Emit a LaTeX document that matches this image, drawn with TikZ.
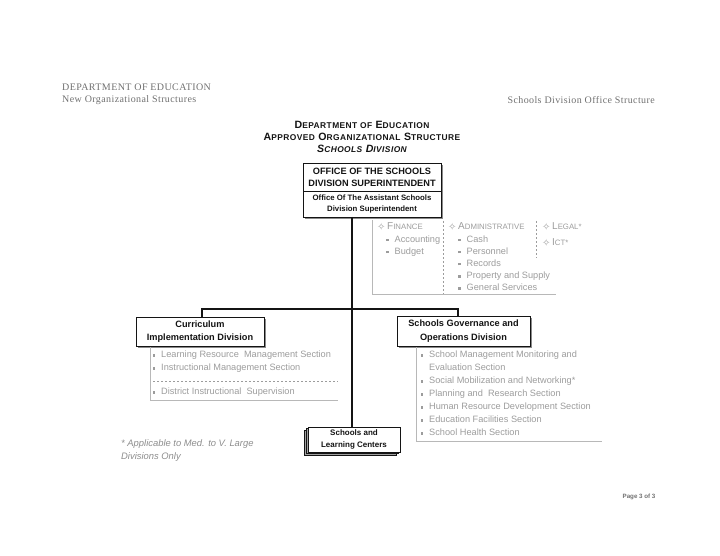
\documentclass[tikz,border=0pt]{standalone}
\usepackage{fontspec}
\setmainfont{Liberation Sans}
\newfontfamily\hdfont[LetterSpace=4]{Liberation Serif}
\newfontfamily\ttlfont[LetterSpace=5]{Liberation Sans}
\newfontfamily\symfont{DejaVu Sans}
\usepackage{xcolor}
\usetikzlibrary{positioning,backgrounds,shadows}
\definecolor{cInk}{HTML}{141414}
\definecolor{cHead}{HTML}{707070}
\definecolor{cItem}{HTML}{9C9C9C}
\definecolor{cFrame}{HTML}{B8B8B8}
\definecolor{cShade}{HTML}{8A8A8A}
\newcommand{\fsc}[3][7.8]{#2{\fontsize{#1}{#1}\selectfont #3}}
\newcommand{\bul}{\makebox[8.5pt][l]{\rule[1.2pt]{2.4pt}{2.4pt}}}
\newcommand{\dmd}{\makebox[10pt][l]{\raisebox{-0.3pt}{\symfont\fontsize{10}{10}\selectfont ✧}}}
\tikzset{
  hdtxt/.style={font=\hdfont\fontsize{10}{12}\selectfont, text=cHead, inner sep=0pt, align=left},
  ttltxt/.style={font=\ttlfont\bfseries\fontsize{10.6}{12}\selectfont, text=cInk, inner sep=0pt, align=center},
  box/.style={draw=cInk, fill=white, line width=0.8pt, outer sep=0pt, inner sep=2pt, align=center,
              text=cInk, font=\bfseries\fontsize{9.2}{13}\selectfont},
  shbox/.style={box, drop shadow={shadow xshift=1.8pt, shadow yshift=-1.8pt, fill=cShade, opacity=1}},
  itm/.style={font=\fontsize{9.2}{13}\selectfont, text=cItem, align=left, inner sep=0pt, anchor=north west},
  frm/.style={draw=cFrame, line width=1pt},
  sep/.style={draw=cItem, dash pattern=on 2pt off 2pt, line width=0.6pt},
  link/.style={draw=cInk, line width=1.5pt},
  note/.style={font=\itshape\fontsize{9.4}{13}\selectfont, text=cItem!90!black, align=left, inner sep=0pt, anchor=north west},
  pg/.style={font=\bfseries\fontsize{6.2}{7}\selectfont, text=cHead, inner sep=0pt}
}

\begin{document}
\begin{tikzpicture}[x=1pt, y=1pt]
\useasboundingbox (0,0) rectangle (720,-556);
% page headers
\node[hdtxt, anchor=north west] (hdl) at (62,-83.7) {DEPARTMENT OF EDUCATION\\New Organizational Structures};
\node[hdtxt, anchor=north east] (hdr) at (655,-96.2) {Schools Division Office Structure};
\node[ttltxt, anchor=north] (ttl) at (362,-121) {\fsc[8.4]{D}{EPARTMENT OF} \fsc[8.4]{E}{DUCATION}\\
  \fsc[8.4]{A}{PPROVED} \fsc[8.4]{O}{RGANIZATIONAL} \fsc[8.4]{S}{TRUCTURE}\\
  \itshape\fsc[8.4]{S}{CHOOLS} \fsc[8.4]{D}{IVISION}};
% superintendent
\node[shbox, minimum width=138, minimum height=28, font=\bfseries\fontsize{9.2}{12}\selectfont] (sup) at (372,-177) {OFFICE OF THE SCHOOLS\\DIVISION SUPERINTENDENT};
\node[shbox, minimum width=138, minimum height=26, below=0pt of sup, font=\bfseries\fontsize{7.8}{11}\selectfont] (asup) {Office Of The Assistant Schools\\Division Superintendent};
% staff services
\draw[frm] (372,-220) |- (556,-294);
\draw[sep] (443,-221) -- (443,-294);
\draw[sep] (536,-221) -- (536,-258);
\node[itm, font=\fontsize{9.2}{12.2}\selectfont] (fin) at (377,-222.6) {\dmd\fsc[7.8]{\fontsize{10}{12.2}\selectfont F}{INANCE}\\
  \hspace*{9pt}\bul Accounting\\\hspace*{9pt}\bul Budget};
\node[itm, font=\fontsize{9.2}{12.2}\selectfont] (adm) at (448,-222.6) {\dmd\fsc[7.8]{\fontsize{10}{12.2}\selectfont A}{DMINISTRATIVE}\\
  \hspace*{10pt}\bul Cash\\\hspace*{10pt}\bul Personnel\\\hspace*{10pt}\bul Records\\
  \hspace*{10pt}\bul Property and Supply\\\hspace*{10pt}\bul General Services};
\node[itm, font=\fontsize{9.2}{16}\selectfont] (leg) at (542,-222.6) {\dmd\fsc[7.8]{\fontsize{10}{16}\selectfont L}{EGAL*}\\
  \dmd\fsc[7.8]{\fontsize{10}{16}\selectfont I}{CT*}};
% divisions
\node[shbox, minimum width=128, minimum height=29] (cid) at (200,-331.5) {Curriculum\\Implementation Division};
\node[shbox, minimum width=133, minimum height=30, font=\bfseries\fontsize{9.2}{14}\selectfont] (sgod) at (463.5,-331) {Schools Governance and\\Operations Division};
\node[box, minimum width=92, minimum height=25, font=\bfseries\fontsize{8}{12.5}\selectfont,
  double copy shadow={shadow xshift=-2pt, shadow yshift=-1.6pt, fill=cShade!80}] (slc) at (354,-439.5) {Schools and\\Learning Centers};
% trunk and branches
\coordinate (jn) at (352,-309);
\draw[link] (asup.south -| jn) -- (slc.north -| jn);
\draw[link] ([xshift=2pt]cid.north) |- (jn) -| ([xshift=-5.5pt]sgod.north);
% sections
\draw[frm] (150.5,-347) |- (338,-400);
\node[itm] (cidl) at (152.5,-351.1) {\bul Learning Resource\ \ Management Section\\\bul Instructional Management Section};
\draw[sep] (153,-381) -- (338,-381);
\node[itm] (cidd) at (152.5,-388.1) {\bul District Instructional\ \ Supervision};
\draw[frm] (416,-347) |- (602,-441);
\node[itm] (sgodl) at (420.5,-351.1) {\bul School Management Monitoring and\\\hspace*{8.5pt}Evaluation Section\\
  \bul Social Mobilization and Networking*\\\bul Planning and\ \ Research Section\\
  \bul Human Resource Development Section\\\bul Education Facilities Section\\\bul School Health Section};
% footnote and page
\node[note] (fn) at (121,-439) {* Applicable to Med. to V. Large\\Divisions Only};
\node[pg] (pgno) at (639,-497) {Page 3 of 3};
\end{tikzpicture}
\end{document}
